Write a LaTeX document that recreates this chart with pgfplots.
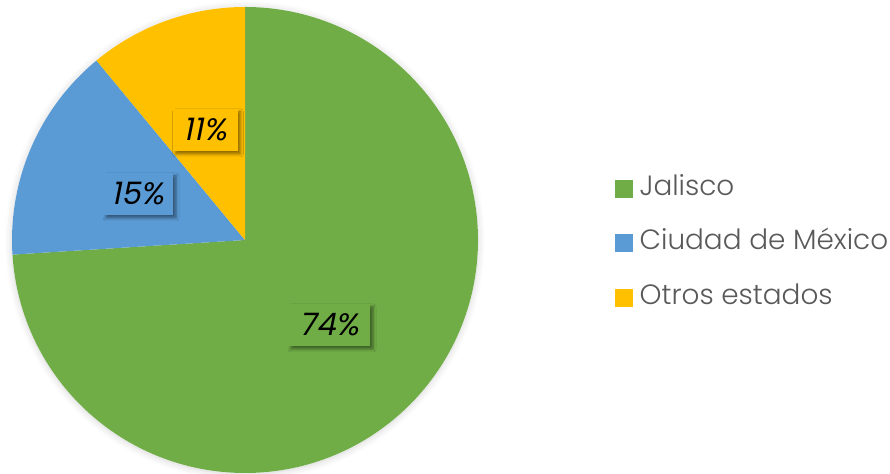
\documentclass[border=0pt]{standalone}
\usepackage{pgfplots}
\pgfplotsset{compat=1.18}
\usepackage{pgfplotstable}
\usepackage{fontspec}
\setmainfont{Poppins Light}
\newfontfamily\labfont{Poppins}[FakeSlant=0.2]
\usetikzlibrary{shadows.blur}
\definecolor{cJal}{HTML}{70AD47}
\definecolor{cMex}{HTML}{5B9BD5}
\definecolor{cOtr}{HTML}{FFC000}
\definecolor{legtext}{HTML}{595959}

\pgfplotstableread{
name value
Jalisco 74
CDMX 15
Otros 11
}\piedata
\pgfplotstablegetelem{0}{value}\of\piedata \let\vA\pgfplotsretval
\pgfplotstablegetelem{1}{value}\of\piedata \let\vB\pgfplotsretval
\pgfplotstablegetelem{2}{value}\of\piedata \let\vC\pgfplotsretval
\pgfmathsetmacro{\aA}{90-3.6*\vA}
\pgfmathsetmacro{\aB}{\aA-3.6*\vB}
\pgfmathsetmacro{\aC}{\aB-3.6*\vC}

\begin{document}
\begin{tikzpicture}
\begin{axis}[
  x=1bp, y=1bp, xmin=0, xmax=890, ymin=0, ymax=474,
  scale only axis, hide axis, clip=false,
  legend cell align=left,
  legend style={at={(axis cs:615,231)}, anchor=west, draw=none, fill=none,
    inner sep=0pt, row sep=24.5bp,
    font=\fontsize{28}{30}\selectfont\color{legtext},
    nodes={inner xsep=0bp, inner ysep=2bp, text height=20bp, text depth=6bp}},
]
\path (axis cs:0,0) rectangle (axis cs:890,474);
\addlegendimage{legend image code/.code={\fill[cJal] (0bp,-8.5bp) rectangle (17bp,8.5bp); \path (24bp,0);}}
\addlegendentry{Jalisco}
\addlegendimage{legend image code/.code={\fill[cMex] (0bp,-8.5bp) rectangle (17bp,8.5bp); \path (24bp,0);}}
\addlegendentry{Ciudad de México}
\addlegendimage{legend image code/.code={\fill[cOtr] (0bp,-8.5bp) rectangle (17bp,8.5bp); \path (24bp,0);}}
\addlegendentry{Otros estados}

\fill[white, blur shadow={shadow xshift=0bp, shadow yshift=-1bp, shadow blur radius=7bp, shadow opacity=18}] (axis cs:245,234) circle[radius=233bp];
\fill[cJal] (axis cs:245,234) -- ++(90:233bp) arc[start angle=90, end angle=\aA, radius=233bp] -- cycle;
\fill[cMex] (axis cs:245,234) -- ++(\aA:233bp) arc[start angle=\aA, end angle=\aB, radius=233bp] -- cycle;
\fill[cOtr] (axis cs:245,234) -- ++(\aB:233bp) arc[start angle=\aB, end angle=\aC, radius=233bp] -- cycle;

\tikzset{lab/.style={blur shadow={shadow xshift=3bp, shadow yshift=-3bp, shadow blur radius=3bp, shadow opacity=45},
  font=\labfont\fontsize{31}{31}\selectfont, text=black, minimum height=42bp, inner xsep=6bp}}
\node[lab, fill=cJal, minimum width=82bp] at (axis cs:329,149) {\vA\%};
\node[lab, fill=cMex, minimum width=70bp] at (axis cs:138,280) {\vB\%};
\node[lab, fill=cOtr, minimum width=65bp] at (axis cs:205,344) {\vC\%};
\end{axis}
\end{tikzpicture}
\end{document}
